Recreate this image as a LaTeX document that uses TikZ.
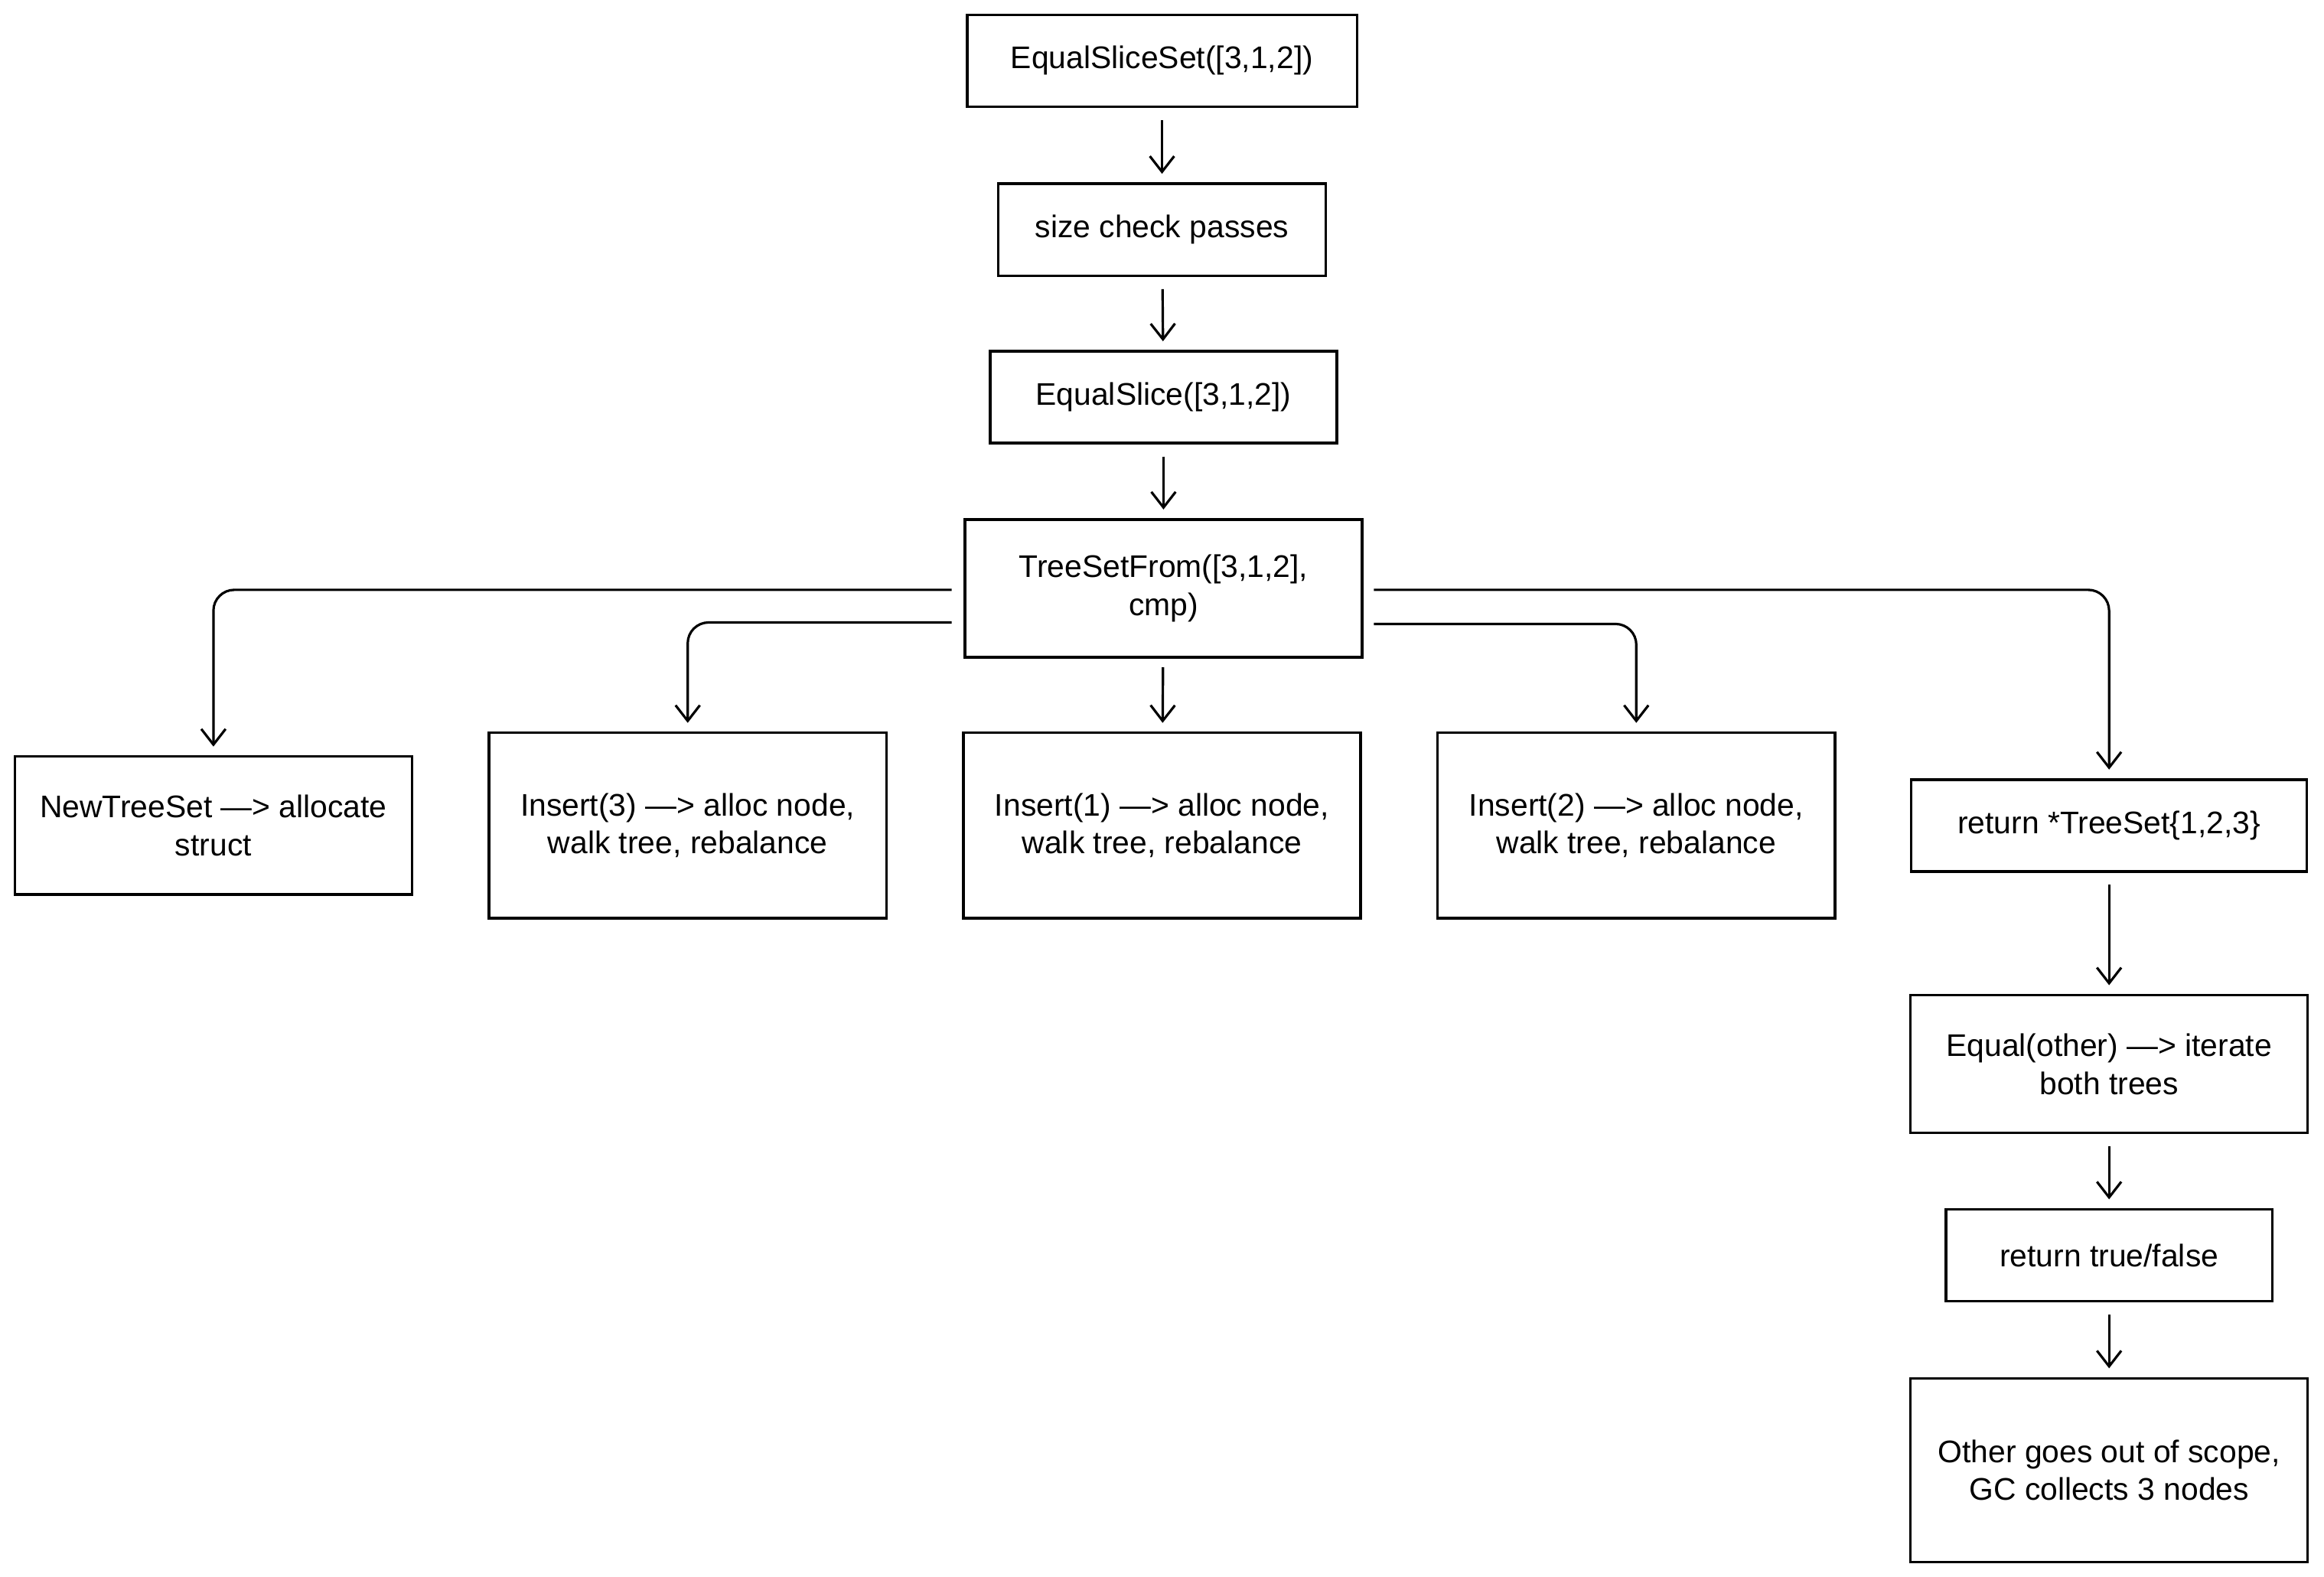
\documentclass[tikz,border=0pt]{standalone}
\usepackage{fontspec}
\setmainfont{Liberation Sans}
\usetikzlibrary{arrows.meta,positioning,calc}
\newcommand{\px}{0.03cm}

\begin{document}
\begin{tikzpicture}[x=\px, y=-\px,
    box/.style={draw, line width=1.5pt, align=center, inner sep=0pt,
      font=\fontsize{18}{22}\selectfont},
    flow/.style={-{Straight Barb[length=9pt,width=14pt]}, line width=1.4pt, rounded corners=12pt}]
  \useasboundingbox (0,0) rectangle (1568,1064);

  \node[box, minimum width=263*\px, minimum height=62*\px] (slset) at (784,41) {EqualSliceSet([3,1,2])};
  \node[box, minimum width=221*\px, minimum height=62*\px] (check) at (784,155) {size check passes};
  \node[box, minimum width=234*\px, minimum height=62*\px] (slice) at (785,268) {EqualSlice([3,1,2])};
  \node[box, minimum width=268*\px, minimum height=93*\px] (from) at (785,397) {TreeSetFrom([3,1,2],\\cmp)};

  \node[box, minimum width=268*\px, minimum height=93*\px] (newset) at (144,557) {NewTreeSet ---> allocate\\struct};
  \node[box, minimum width=268*\px, minimum height=125*\px] (ins3) at (464,557) {Insert(3) ---> alloc node,\\walk tree, rebalance};
  \node[box, minimum width=268*\px, minimum height=125*\px] (ins1) at (784,557) {Insert(1) ---> alloc node,\\walk tree, rebalance};
  \node[box, minimum width=268*\px, minimum height=125*\px] (ins2) at (1104,557) {Insert(2) ---> alloc node,\\walk tree, rebalance};
  \node[box, minimum width=267*\px, minimum height=62*\px] (ret) at (1423,557) {return *TreeSet\{1,2,3\}};
  \node[box, minimum width=268*\px, minimum height=93*\px] (equal) at (1423,718) {Equal(other) ---> iterate\\both trees};
  \node[box, minimum width=220*\px, minimum height=62*\px] (bool) at (1423,847) {return true/false};
  \node[box, minimum width=268*\px, minimum height=124*\px] (gc) at (1423,992) {Other goes out of scope,\\GC collects 3 nodes};

  % main chain
  \draw[flow, shorten <=7pt, shorten >=5pt] (slset) -- (check);
  \draw[flow, shorten <=7pt, shorten >=5pt] (check) -- (slice);
  \draw[flow, shorten <=7pt, shorten >=5pt] (slice) -- (from);
  \draw[flow, shorten <=5pt, shorten >=5pt] (from) -- (ins1);

  % fan out
  \draw[flow, shorten >=5pt] ($(from.west)+(-8,1)$) -| (newset.north);
  \draw[flow, shorten >=5pt] ($(from.west)+(-8,23)$) -| (ins3.north);
  \draw[flow, shorten >=5pt] ($(from.east)+(7,24)$) -| (ins2.north);
  \draw[flow, shorten >=5pt] ($(from.east)+(7,1)$) -| (ret.north);

  % right column
  \draw[flow, shorten <=7pt, shorten >=5pt] (ret) -- (equal);
  \draw[flow, shorten <=7pt, shorten >=5pt] (equal) -- (bool);
  \draw[flow, shorten <=7pt, shorten >=5pt] (bool) -- (gc);
\end{tikzpicture}
\end{document}
